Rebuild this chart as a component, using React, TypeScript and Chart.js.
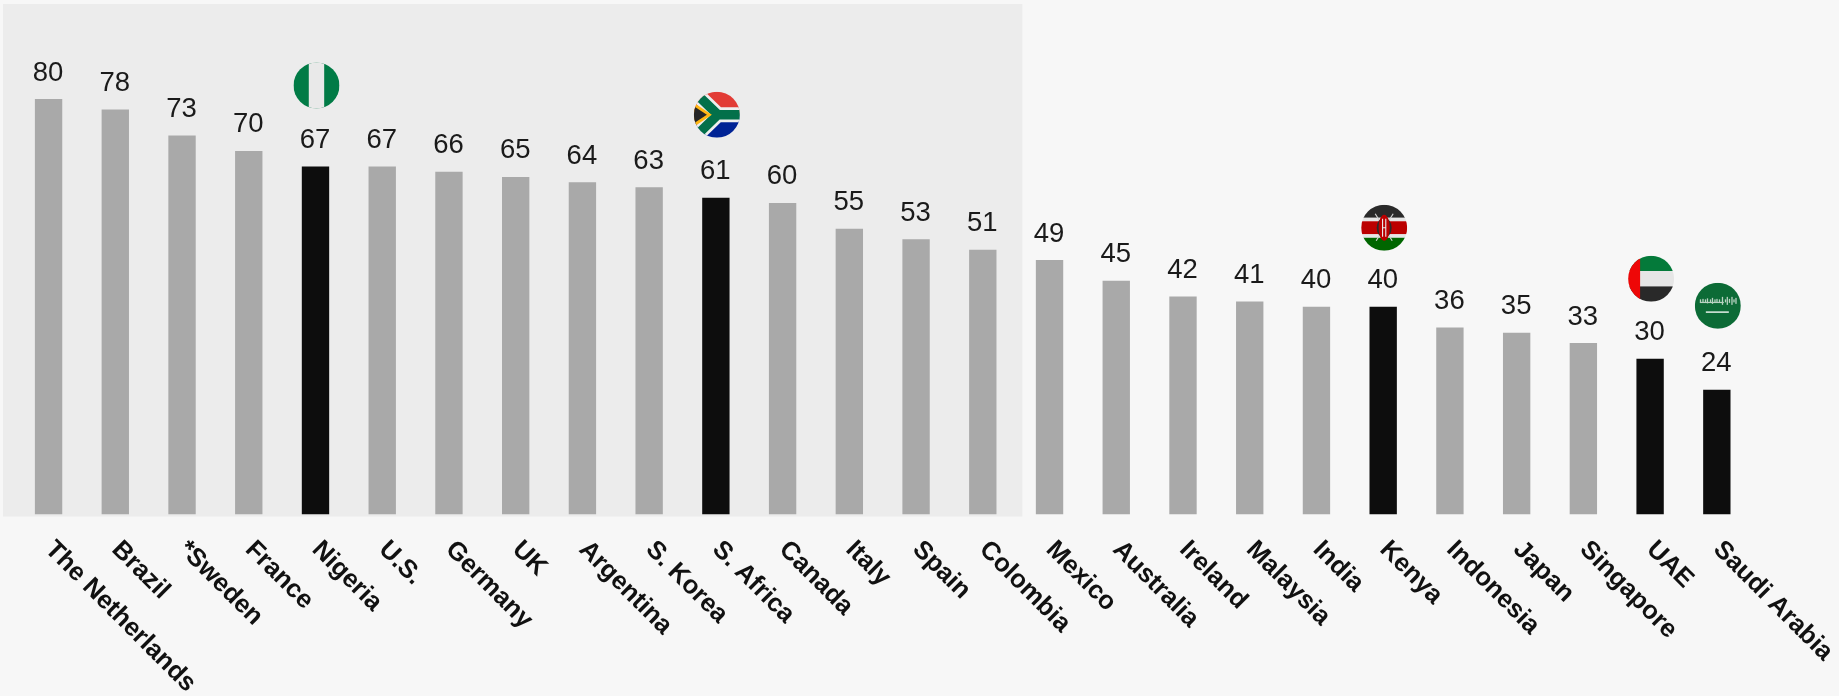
import React, { useEffect, useRef } from "react";
import { Chart, registerables } from "chart.js";

Chart.register(...registerables);

const categories = ["The Netherlands", "Brazil", "*Sweden", "France", "Nigeria", "U.S.", "Germany", "UK", "Argentina", "S. Korea", "S. Africa", "Canada", "Italy", "Spain", "Colombia", "Mexico", "Australia", "Ireland", "Malaysia", "India", "Kenya", "Indonesia", "Japan", "Singapore", "UAE", "Saudi Arabia"];
const values = [80, 78, 73, 70, 67, 67, 66, 65, 64, 63, 61, 60, 55, 53, 51, 49, 45, 42, 41, 40, 40, 36, 35, 33, 30, 24];
const highlighted = ["Nigeria", "S. Africa", "Kenya", "UAE", "Saudi Arabia"];
const flagLift: Record<string, number> = { Nigeria: 81, "S. Africa": 83, Kenya: 79, UAE: 80, "Saudi Arabia": 84 };
const lastShadedCategory = "Colombia";

const R = 23;

function band(c: CanvasRenderingContext2D, color: string, y0: number, y1: number) {
  c.fillStyle = color;
  c.fillRect(-R, y0, 2 * R, y1 - y0);
}

function drawNigeria(c: CanvasRenderingContext2D) {
  band(c, "#017b46", -R, R);
  c.fillStyle = "#e9e9e9";
  c.fillRect(-7.7, -R, 15.4, 2 * R);
}

function drawSouthAfrica(c: CanvasRenderingContext2D) {
  band(c, "#e23b35", -R, 0);
  band(c, "#002395", 0, R);
  c.lineJoin = "miter";
  const path = () => {
    c.beginPath();
    c.moveTo(-R - 6, -R - 6);
    c.lineTo(1, 0);
    c.lineTo(R, 0);
    c.moveTo(1, 0);
    c.lineTo(-R - 6, R + 6);
  };
  c.strokeStyle = "#eeeeee";
  c.lineWidth = 15;
  path();
  c.stroke();
  c.strokeStyle = "#03704a";
  c.lineWidth = 9.5;
  path();
  c.stroke();
  c.fillStyle = "#ffb612";
  c.beginPath();
  c.moveTo(-R, -12);
  c.lineTo(-5, 0);
  c.lineTo(-R, 12);
  c.fill();
  c.fillStyle = "#262626";
  c.beginPath();
  c.moveTo(-R, -8.5);
  c.lineTo(-10, 0);
  c.lineTo(-R, 8.5);
  c.fill();
}

function drawKenya(c: CanvasRenderingContext2D) {
  band(c, "#2a2a2a", -R, -10);
  band(c, "#e6e6e6", -10, -6.5);
  band(c, "#bb0000", -6.5, 6.5);
  band(c, "#e6e6e6", 6.5, 10);
  band(c, "#006600", 10, R);
  c.strokeStyle = "#d0d0d0";
  c.lineWidth = 1.2;
  c.beginPath();
  c.moveTo(-9, -14);
  c.lineTo(8, 13);
  c.moveTo(9, -14);
  c.lineTo(-8, 13);
  c.stroke();
  c.fillStyle = "#2a2a2a";
  c.beginPath();
  c.ellipse(0, 0, 7.5, 10, 0, 0, 2 * Math.PI);
  c.fill();
  c.fillStyle = "#bb0000";
  c.beginPath();
  c.ellipse(0, 0, 5.6, 13, 0, 0, 2 * Math.PI);
  c.fill();
  c.strokeStyle = "#e8e8e8";
  c.lineWidth = 1.1;
  c.beginPath();
  c.moveTo(-1.6, -9);
  c.lineTo(-1.6, 9);
  c.moveTo(1.6, -9);
  c.lineTo(1.6, 9);
  c.moveTo(-1.6, 0);
  c.lineTo(1.6, 0);
  c.stroke();
}

function drawUae(c: CanvasRenderingContext2D) {
  band(c, "#047a3a", -R, -7.7);
  band(c, "#e6e6e6", -7.7, 7.7);
  band(c, "#292929", 7.7, R);
  c.fillStyle = "#ee0707";
  c.fillRect(-R, -R, 12, 2 * R);
}

function drawSaudi(c: CanvasRenderingContext2D) {
  band(c, "#0c6b36", -R, R);
  c.fillStyle = "#b9d3c2";
  const glyphs = [-18, -15.5, -13, -11, -8, -6, -3.5, -1.5, 1, 4, 7, 8.8, 11, 13.5, 15.5, 17.5];
  const heights = [3, 4, 3, 5, 3, 6, 3, 4, 3, 8, 3, 8, 4, 8, 3, 6];
  glyphs.forEach((x, i) => c.fillRect(x, -5 - heights[i] / 2, 1.3, heights[i]));
  c.fillRect(-18, -4, 24, 1.2);
  c.fillStyle = "#e4eee7";
  c.fillRect(-12, 5.5, 23, 1.5);
}

const flagPainters: Record<string, (c: CanvasRenderingContext2D) => void> = {
  Nigeria: drawNigeria,
  "S. Africa": drawSouthAfrica,
  Kenya: drawKenya,
  UAE: drawUae,
  "Saudi Arabia": drawSaudi,
};

const decorPlugin = {
  id: "decor",
  beforeDraw(chart: any) {
    const { ctx, chartArea, scales } = chart;
    const x = scales.x;
    ctx.save();
    ctx.fillStyle = "#f7f7f7";
    ctx.fillRect(0, 0, chart.width, chart.height);
    const end = x.getPixelForValue(categories.indexOf(lastShadedCategory)) + 39.5;
    ctx.fillStyle = "#ececec";
    ctx.fillRect(3, chartArea.top, end - 3, chartArea.bottom + 2 - chartArea.top);
    ctx.restore();
  },
  afterDatasetsDraw(chart: any) {
    const { ctx, scales } = chart;
    const { x, y } = scales;
    ctx.save();
    categories.forEach((name, i) => {
      const px = x.getPixelForValue(i);
      const top = y.getPixelForValue(values[i]);

      ctx.fillStyle = "#1a1a1a";
      ctx.font = '27.5px "Liberation Sans"';
      ctx.textAlign = "center";
      ctx.textBaseline = "alphabetic";
      ctx.fillText(String(values[i]), px - 0.5, top - 18.5);

      ctx.save();
      ctx.translate(px + 0.5, y.bottom + 31);
      ctx.rotate((45 * Math.PI) / 180);
      ctx.fillStyle = "#111111";
      ctx.font = 'bold 25.7px "Liberation Sans"';
      ctx.textAlign = "left";
      ctx.textBaseline = "middle";
      ctx.fillText(x.getLabelForValue(i), 0, 0);
      ctx.restore();

      const paint = flagPainters[name];
      if (paint) {
        ctx.save();
        ctx.translate(px + 1, top - flagLift[name]);
        ctx.beginPath();
        ctx.arc(0, 0, R, 0, 2 * Math.PI);
        ctx.clip();
        paint(ctx);
        ctx.restore();
      }
    });
    ctx.restore();
  },
};

export default function App() {
  const ref = useRef<HTMLCanvasElement>(null);
  useEffect(() => {
    const chart = new Chart(ref.current!, {
      type: "bar",
      data: {
        labels: categories,
        datasets: [
          {
            data: values,
            backgroundColor: categories.map((n) => (highlighted.includes(n) ? "#0d0d0d" : "#a9a9a9")),
            barPercentage: 0.41,
            categoryPercentage: 1,
          },
        ],
      },
      options: {
        animation: false,
        responsive: false,
        devicePixelRatio: 1,
        layout: { padding: { left: 15.2, right: 88.8, top: 4, bottom: 181.5 } },
        plugins: { legend: { display: false }, title: { display: false }, tooltip: { enabled: false } },
        scales: {
          x: { display: false },
          y: { display: false, min: 0, max: 98.3 },
        },
      },
      plugins: [decorPlugin],
    } as any);
    return () => chart.destroy();
  }, []);
  return (
    <div style={{ position: "fixed", left: 0, top: 0, width: 1839, height: 696, background: "#f7f7f7" }}>
      <canvas ref={ref} width={1839} height={696} style={{ display: "block" }} />
    </div>
  );
}
